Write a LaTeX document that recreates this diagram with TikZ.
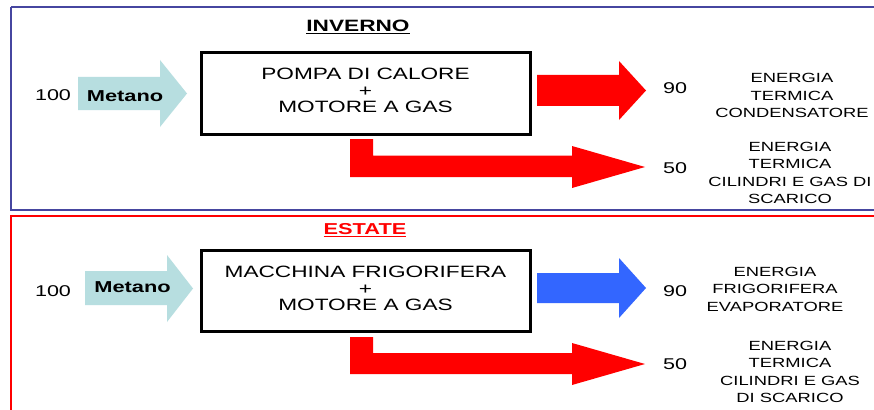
\documentclass[tikz,border=0pt]{standalone}
\usepackage{fontspec}
\setmainfont{Liberation Sans}[FakeStretch=1.38]
\definecolor{framblue}{HTML}{4646A0}
\definecolor{metano}{HTML}{B7DEE0}
\definecolor{coldblue}{HTML}{3366FF}
\definecolor{hotred}{HTML}{FF0000}
\begin{document}
\begin{tikzpicture}[x=1pt,y=-1pt,
  machinebox/.style={draw=black,line width=3pt,minimum width=329pt,minimum height=81pt,inner sep=0pt},
  maintext/.style={inner sep=0pt,align=center,font=\fontsize{16.4}{16.5}\selectfont},
  metanotxt/.style={inner sep=0pt,font=\fontsize{15.8}{16}\selectfont\bfseries},
  numtxt/.style={inner sep=0pt,font=\fontsize{15.6}{16}\selectfont},
  labtxt/.style={inner sep=0pt,align=center,font=\fontsize{13.3}{17.5}\selectfont},
  titletxt/.style={inner sep=0pt,font=\fontsize{16.4}{17}\selectfont\bfseries}]
\useasboundingbox (0,0) rectangle (874,409);
\clip (0,0) rectangle (874,409);
\fill[white] (0,0) rectangle (874,409);
% frames
\draw[framblue,line width=2pt] (11,7) -- (890,7);
\draw[framblue,line width=2pt] (11,7) -- (11,209.5) -- (890,209.5);
\draw[hotred,line width=2pt] (11,430) -- (11,215.5) -- (890,215.5);
% titles
\node[titletxt] (inv) at (358,27) {\underline{INVERNO}};
\node[titletxt,text=hotred,font=\fontsize{15.8}{16}\selectfont\bfseries] (est) at (365,230) {\underline{ESTATE}};
% ---------- INVERNO ----------
\node[machinebox] (b1) at (365.5,93.5) {};
\node[maintext] (b1t) at (365.5,90.5) {POMPA DI CALORE\\+\\MOTORE A GAS};
\fill[metano] (78,77) -- (160,77) -- (160,60) -- (187,93.5) -- (160,127) -- (160,110) -- (78,110) -- cycle;
\node[metanotxt] (m1) at (125,96) {Metano};
\node[numtxt] (n100a) at (53,95) {100};
\fill[hotred] (537,75) -- (619,75) -- (619,61) -- (646,90.5) -- (619,120) -- (619,106) -- (537,106) -- cycle;
\node[numtxt] (n90a) at (675,88) {90};
\node[labtxt] (l1) at (792,95.5) {ENERGIA\\TERMICA\\CONDENSATORE};
\fill[hotred] (350,139) -- (373,139) -- (373,155.5) -- (572,155.5) -- (572,146) -- (645,167) -- (572,188) -- (572,177) -- (350,177) -- cycle;
\node[numtxt] (n50a) at (675,168) {50};
\node[labtxt] (l2) at (790,173) {ENERGIA\\TERMICA\\CILINDRI E GAS DI\\SCARICO};
% ---------- ESTATE ----------
\node[machinebox] (b2) at (365.5,290.5) {};
\node[maintext] (b2t) at (365.5,288.5) {MACCHINA FRIGORIFERA\\+\\MOTORE A GAS};
\fill[metano] (85,271) -- (167,271) -- (167,255) -- (193,288.5) -- (167,322) -- (167,305) -- (85,305) -- cycle;
\node[metanotxt] (m2) at (132.5,287) {Metano};
\node[numtxt] (n100b) at (53,291) {100};
\fill[coldblue] (537,273) -- (619,273) -- (619,258) -- (646,288) -- (619,318) -- (619,303) -- (537,303) -- cycle;
\node[numtxt] (n90b) at (675,291) {90};
\node[labtxt] (l3) at (775,289) {ENERGIA\\FRIGORIFERA\\EVAPORATORE};
\fill[hotred] (350,337) -- (373,337) -- (373,353) -- (572,353) -- (572,343) -- (645,364) -- (572,385) -- (572,374) -- (350,374) -- cycle;
\node[numtxt] (n50b) at (675,364) {50};
\node[labtxt] (l4) at (790,372) {ENERGIA\\TERMICA\\CILINDRI E GAS\\DI SCARICO};
\end{tikzpicture}
\end{document}
